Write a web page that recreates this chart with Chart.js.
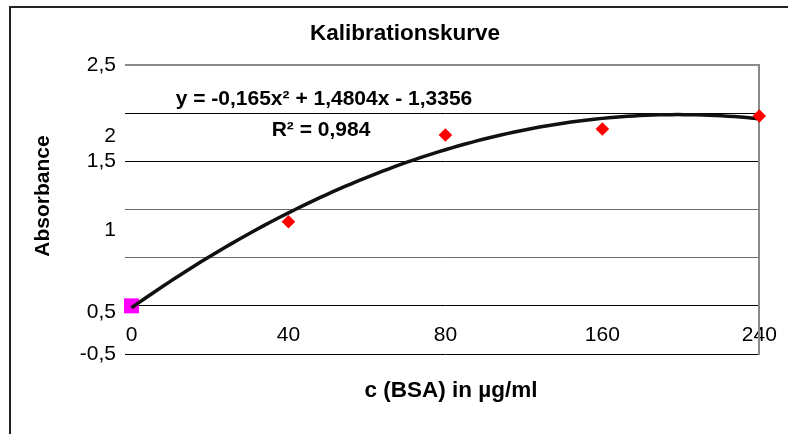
<!DOCTYPE html>
<html>
<head>
<meta charset="utf-8">
<script src="https://cdn.jsdelivr.net/npm/chart.js@4.4.1/dist/chart.umd.min.js"></script>
<style>
  html, body { margin: 0; padding: 0; background: #fff; overflow: hidden; }
  #wrap { position: relative; width: 788px; height: 434px; }
  #chart { display: block; }
  #frame { position: absolute; left: 9px; top: 6px; width: 800px; height: 450px; border-left: 2px solid #222; border-top: 2px solid #222; pointer-events: none; }
</style>
</head>
<body>
<div id="wrap">
  <canvas id="chart" width="788" height="434"></canvas>
  <div id="frame"></div>
</div>
<script>
// Messwerte (x = Kategorie 1..5)
const concentrations = ['0', '40', '80', '160', '240'];
const absorbance = [0, 0.873, 1.773, 1.835, 1.97];
// Trendlinie: y = a*x^2 + b*x + c
const trendCoef = [-0.165, 1.4804, -1.3356];
// Achsenbeschriftung wie im Original (verschoben)
const yTickLabels = ['2,5', '2', '1,5', '1', '0,5', '-0,5'];
const yTickAt = [2.5, 1.76, 1.5, 0.78, -0.07, -0.5];

const chartTitle = 'Kalibrationskurve';
const xTitle = 'c (BSA) in µg/ml';
const yTitle = 'Absorbance';
const fitText = ['y = -0,165x² + 1,4804x - 1,3356', 'R² = 0,984'];

Chart.defaults.font.family = '"Liberation Sans", Arial, sans-serif';
Chart.defaults.font.size = 21;
Chart.defaults.color = '#000';

const points = absorbance.map((v, i) => ({ x: i + 1, y: v }));
const trend = [];
for (let i = 0; i <= 100; i++) {
  const x = 1 + i * 0.04;
  trend.push({ x: x, y: trendCoef[0] * x * x + trendCoef[1] * x + trendCoef[2] });
}

// grid lines: gray for some, black for the rest
const gridStyle = { '2.5': ['#8a8a8a', 2], '1': ['#6a6a6a', 1], '0.5': ['#6a6a6a', 1] };
const gridKey = ctx => String(Math.round(ctx.tick.value * 10) / 10);

const FONT = '"Liberation Sans", Arial, sans-serif';
const textPlugin = {
  id: 'texts',
  afterDraw(chart) {
    const ctx = chart.ctx;
    ctx.save();
    ctx.fillStyle = '#000';
    ctx.textAlign = 'center';
    ctx.textBaseline = 'middle';
    ctx.font = 'bold 22.5px ' + FONT;
    ctx.fillText(chartTitle, 405, 34);
    ctx.font = 'bold 21px ' + FONT;
    ctx.fillText(fitText[0], 324, 99);
    ctx.fillText(fitText[1], 321, 130);
    ctx.font = 'bold 22.5px ' + FONT;
    ctx.fillText(xTitle, 451, 391);
    ctx.font = 'bold 21px ' + FONT;
    ctx.translate(43, 196);
    ctx.rotate(-Math.PI / 2);
    ctx.fillText(yTitle, 0, 0);
    ctx.restore();
  }
};

const config = {
  type: 'scatter',
  data: {
    datasets: [
      {
        label: '0',
        data: points.slice(0, 1),
        pointStyle: 'rect',
        pointRadius: 10.6,
        backgroundColor: '#ff00ff',
        borderWidth: 0,
        order: 3,
        clip: false,
      },
      {
        label: 'Trend',
        data: trend,
        showLine: true,
        borderColor: '#111',
        borderWidth: 3.5,
        pointRadius: 0,
        order: 2,
        clip: false,
      },
      {
        label: 'Messwerte',
        data: points.slice(1),
        pointStyle: 'rectRot',
        pointRadius: 6.8,
        backgroundColor: '#ff0000',
        borderWidth: 0,
        order: 1,
        clip: false,
      },
    ],
  },
  options: {
    responsive: false,
    animation: false,
    layout: { padding: { left: 12, right: 28.7, top: 65, bottom: 80 } },
    plugins: {
      legend: { display: false },
      tooltip: { enabled: false },
    },
    scales: {
      x: {
        type: 'linear',
        position: { y: 0 },
        min: 1,
        max: 5,
        ticks: { stepSize: 1, padding: 0, callback: v => concentrations[v - 1] },
        grid: { display: false, drawTicks: true, tickLength: 17 },
        border: { display: false },
      },
      y: {
        type: 'linear',
        position: 'left',
        weight: 0,
        min: -0.5,
        max: 2.5,
        ticks: { stepSize: 0.5, display: false },
        grid: {
          color: ctx => (gridStyle[gridKey(ctx)] || ['#000'])[0],
          lineWidth: ctx => (gridStyle[gridKey(ctx)] || ['#000', 1])[1],
          tickLength: 6.5,
        },
        border: { display: false },
      },
      yl: {
        type: 'linear',
        position: 'left',
        weight: 1,
        min: -0.5,
        max: 2.5,
        afterBuildTicks: s => { s.ticks = yTickAt.map(v => ({ value: v })); },
        afterFit: s => { s.width = 113; },
        ticks: { autoSkip: false, padding: 9, callback: (v, i) => yTickLabels[i] },
        grid: { display: false, drawTicks: false },
        border: { display: false },
      },
      yr: {
        type: 'linear',
        position: 'right',
        afterFit: s => { s.width = 0; },
        ticks: { display: false },
        grid: { display: false, drawTicks: false },
        border: { color: '#8a8a8a', width: 2 },
      },
    },
  },
  plugins: [textPlugin],
};

window.calChart = new Chart(document.getElementById('chart'), config);
</script>
</body>
</html>
